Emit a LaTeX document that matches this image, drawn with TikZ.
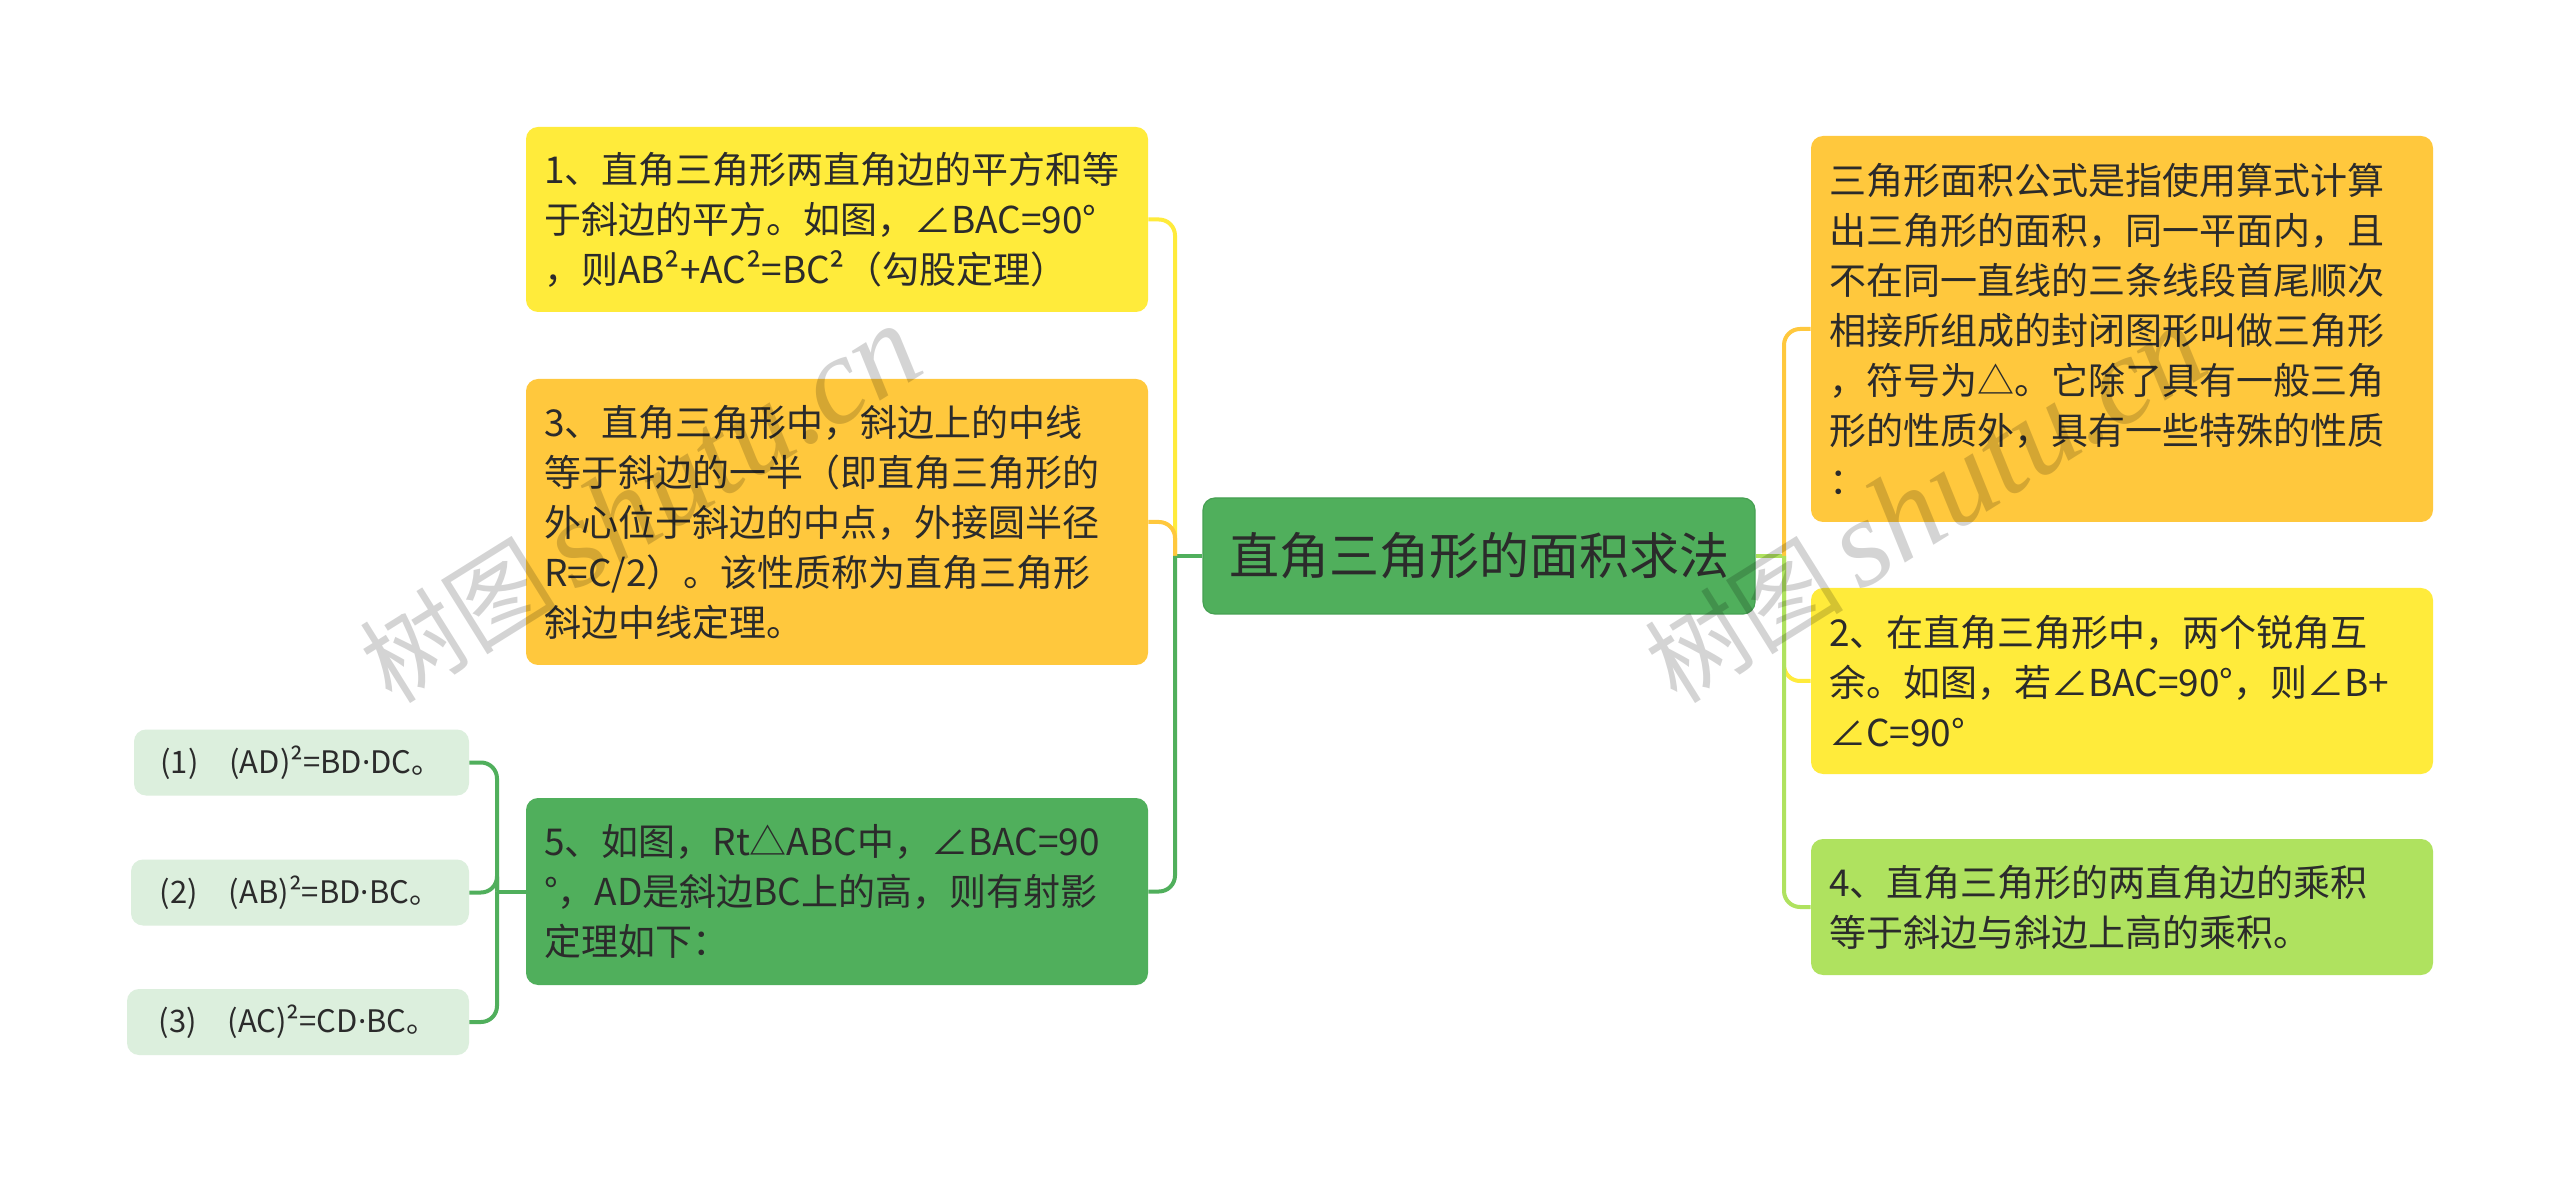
\documentclass[tikz,border=0pt]{standalone}
\usepackage{fontspec}
\setmainfont{Noto Sans CJK SC}
\newfontfamily\wmlatin{Liberation Serif}
\newfontfamily\latinsans{Noto Sans}
\newcommand{\mdot}{{\latinsans ·}}
\definecolor{cyel}{HTML}{FFEB3B}
\definecolor{corg}{HTML}{FFC83D}
\definecolor{cgrn}{HTML}{50AF5C}
\definecolor{cgrnd}{HTML}{46A052}
\definecolor{clim}{HTML}{AFE25F}
\definecolor{csub}{HTML}{DCEFDD}
\definecolor{ctext}{HTML}{2B2B2B}
\begin{document}
\begin{tikzpicture}[x=0.5pt,y=-0.5pt,
  box/.style={rounded corners=6pt, inner xsep=9pt, inner ysep=0pt, text width=293pt,
    align=left, text=ctext, font=\fontsize{18.5}{25}\selectfont},
  subbox/.style={rounded corners=6pt, fill=csub, inner sep=0pt, align=center, text=ctext,
    font=\fontsize{15.5}{18}\selectfont, minimum height=33pt},
  conn/.style={line width=2pt, rounded corners=8pt},
  wm/.style={text=black, text opacity=0.17, rotate=32, inner sep=0pt}]
\useasboundingbox (0,0) rectangle (2560,1181);
\fill[white] (0,0) rectangle (2560,1181);

% root
\node[rounded corners=6pt, fill=cgrn, draw=cgrnd, line width=0.6pt, minimum width=276pt, minimum height=58pt,
  inner sep=0pt, text=ctext, font=\fontsize{25}{30}\selectfont] (root) at (1479,556) {直角三角形的面积求法};

% left branches
\node[box, fill=cyel, minimum height=92.5pt] (b1) at (837,219.5)
  {1、直角三角形两直角边的平方和等\\于斜边的平方。如图，∠BAC=90°\\，则AB²+AC²=BC²（勾股定理）};
\node[box, fill=corg, minimum height=143pt] (b3) at (837,522)
  {3、直角三角形中，斜边上的中线\\等于斜边的一半（即直角三角形的\\外心位于斜边的中点，外接圆半径\\R=C/2）。该性质称为直角三角形\\斜边中线定理。};
\node[box, fill=cgrn, minimum height=93.5pt] (b5) at (837,891.5)
  {5、如图，Rt△ABC中，∠BAC=90\\°，AD是斜边BC上的高，则有射影\\定理如下：};

% sub boxes
\node[subbox, minimum width=167.5pt] (s1) at (301.5,762.5) {(1)　(AD)²=BD\mdot DC。};
\node[subbox, minimum width=169pt] (s2) at (300,892.5) {(2)　(AB)²=BD\mdot BC。};
\node[subbox, minimum width=171pt] (s3) at (298,1022) {(3)　(AC)²=CD\mdot BC。};

% right branches
\node[box, fill=corg, minimum height=193pt] (bA) at (2122,329)
  {三角形面积公式是指使用算式计算\\出三角形的面积，同一平面内，且\\不在同一直线的三条线段首尾顺次\\相接所组成的封闭图形叫做三角形\\，符号为△。它除了具有一般三角\\形的性质外，具有一些特殊的性质\\：};
\node[box, fill=cyel, minimum height=93pt] (b2) at (2122,681)
  {2、在直角三角形中，两个锐角互\\余。如图，若∠BAC=90°，则∠B+\\∠C=90°};
\node[box, fill=clim, minimum height=68pt] (b4) at (2122,907)
  {4、直角三角形的两直角边的乘积\\等于斜边与斜边上高的乘积。};

% junctions
\coordinate (L) at (1175,556);
\coordinate (R) at (1784,556);
\coordinate (S) at (497,891.5);

% connectors left
\draw[conn, cgrn] (root.west) -- (L);
\draw[conn, cyel] (L) |- (b1.east);
\draw[conn, corg] (L) |- (b3.east);
\draw[conn, cgrn] (L) |- (b5.east);
% sub connectors
\draw[conn, cgrn] (b5.west) -- (S);
\draw[conn, cgrn] (S) |- (s1.east);
\draw[conn, cgrn] (S) |- (s2.east);
\draw[conn, cgrn] (S) |- (s3.east);
% connectors right
\draw[conn, clim] (root.east) -- (R);
\draw[conn, corg] (R) |- (bA.west);
\draw[conn, cyel] (R) |- (b2.west);
\draw[conn, clim] (R) |- (b4.west);

% watermarks
\node[wm] (wm1) at (640,505) {\fontsize{50}{50}\selectfont 树图\,{\wmlatin\itshape\fontsize{62}{62}\selectfont shutu.cn}};
\node[wm] (wm2) at (1925,505) {\fontsize{50}{50}\selectfont 树图\,{\wmlatin\itshape\fontsize{62}{62}\selectfont shutu.cn}};
\end{tikzpicture}
\end{document}
